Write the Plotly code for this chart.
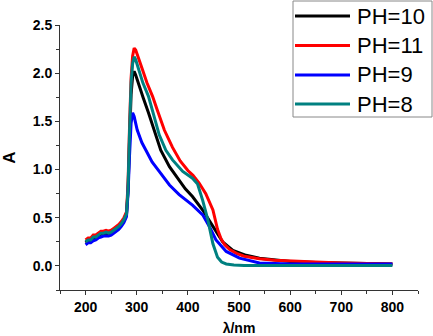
import plotly.graph_objects as go

# ---- data ----
names = ["PH=10", "PH=11", "PH=9", "PH=8"]
colors = ["#000000", "#FF0000", "#0000FF", "#008080"]

low_x = [200, 205, 210, 215, 220, 225, 230, 235, 240, 245, 250, 255, 260, 265, 270, 275, 280]

ph10_x = low_x + [283, 286, 289, 292, 295, 298, 305, 313, 323, 334, 347, 364, 383, 395, 409, 429, 449, 468, 488, 514, 540, 570, 600, 650, 700, 750, 800]
ph10_y = [0.24, 0.26, 0.26, 0.29, 0.29, 0.31, 0.33, 0.33, 0.34, 0.33, 0.34, 0.36, 0.38, 0.40, 0.43, 0.47, 0.53,
          0.78, 1.30, 1.78, 1.97, 2.02, 1.98, 1.86, 1.74, 1.59, 1.40, 1.20, 1.03, 0.89, 0.80, 0.72, 0.58, 0.41, 0.25, 0.16, 0.11, 0.08, 0.06, 0.045, 0.035, 0.03, 0.025, 0.02]

ph11_x = low_x + [283, 286, 289, 292, 295, 298, 305, 311, 320, 331, 340, 354, 370, 385, 400, 410, 422, 435, 449, 458, 465, 472, 482, 495, 510, 540, 570, 600, 650, 700, 750, 800]
ph11_y = [0.27, 0.29, 0.29, 0.32, 0.32, 0.34, 0.36, 0.36, 0.37, 0.36, 0.37, 0.39, 0.41, 0.43, 0.46, 0.50, 0.56,
          0.85, 1.45, 1.95, 2.18, 2.26, 2.24, 2.14, 2.04, 1.90, 1.76, 1.62, 1.41, 1.23, 1.09, 0.99, 0.94, 0.86, 0.75, 0.58, 0.38, 0.28, 0.22, 0.17, 0.13, 0.10, 0.075, 0.06, 0.05, 0.04, 0.03, 0.025, 0.02]

ph9_x = low_x + [283, 286, 289, 292, 295, 301, 310, 318, 330, 344, 364, 383, 409, 429, 442, 455, 475, 501, 540, 570, 600, 700, 800]
ph9_y = [0.22, 0.24, 0.24, 0.26, 0.27, 0.29, 0.30, 0.31, 0.31, 0.31, 0.32, 0.34, 0.36, 0.38, 0.41, 0.45, 0.51,
         0.75, 1.15, 1.48, 1.59, 1.55, 1.41, 1.28, 1.20, 1.08, 0.98, 0.84, 0.74, 0.63, 0.53, 0.41, 0.27, 0.15, 0.08, 0.03, 0.025, 0.02, 0.02, 0.02]

ph8_x = low_x + [283, 286, 289, 292, 295, 298, 305, 312, 323, 333, 344, 357, 370, 390, 409, 419, 429, 439, 449, 458, 466, 475, 490, 510, 600, 700, 800]
ph8_y = [0.25, 0.27, 0.27, 0.30, 0.30, 0.32, 0.34, 0.34, 0.35, 0.34, 0.35, 0.37, 0.39, 0.41, 0.44, 0.48, 0.54,
         0.80, 1.40, 1.90, 2.10, 2.17, 2.14, 2.02, 1.90, 1.76, 1.56, 1.36, 1.20, 1.10, 0.98, 0.91, 0.85, 0.68, 0.48, 0.23, 0.09, 0.04, 0.02, 0.01, 0.005, 0.003, 0.003, 0.003]

series_x = [ph10_x, ph11_x, ph9_x, ph8_x]
series_y = [ph10_y, ph11_y, ph9_y, ph8_y]

x_tickvals = [200, 300, 400, 500, 600, 700, 800]
y_tickvals = [0.0, 0.5, 1.0, 1.5, 2.0, 2.5]
y_ticktext = ["0.0", "0.5", "1.0", "1.5", "2.0", "2.5"]

# ---- figure ----
W, H = 433, 336
ML, MR, MT, MB = 60, 15, 25, 46
PW, PH = W - ML - MR, H - MT - MB
FONT = "Liberation Sans, Arial"

fig = go.Figure()
for nm, c, xs, ys in zip(names, colors, series_x, series_y):
    fig.add_trace(go.Scatter(x=xs, y=ys, mode="lines", name=nm,
                             line=dict(color=c, width=3), showlegend=False))

# manual legend (long line samples like the reference)
def px2paper(px, py):
    return (px - ML) / PW, (H - MB - py) / PH

bx0, by0 = px2paper(293, 117)
bx1, by1 = px2paper(432, 1)
fig.add_shape(type="rect", xref="paper", yref="paper", x0=bx0, y0=by0, x1=bx1, y1=by1,
              line=dict(color="#888888", width=1), fillcolor="white", layer="above")
row_y = [16, 45.5, 75, 104]
for nm, c, ry in zip(names, colors, row_y):
    lx0, ly = px2paper(295, ry)
    lx1, _ = px2paper(350, ry)
    fig.add_shape(type="line", xref="paper", yref="paper", x0=lx0, y0=ly, x1=lx1, y1=ly,
                  line=dict(color=c, width=3), layer="above")
    tx, ty = px2paper(355, ry)
    fig.add_annotation(x=tx, y=ty, xref="paper", yref="paper", text=nm, showarrow=False,
                       xanchor="left", yanchor="middle",
                       font=dict(family=FONT, size=22, color="black"))

axis_common = dict(showline=True, linecolor="#333333", linewidth=1, ticks="outside",
                   ticklen=4, tickwidth=1, tickcolor="#333333", showgrid=False, zeroline=False,
                   tickfont=dict(family=FONT, size=14, color="black", weight="bold"),
                   mirror=False, automargin=False)

fig.update_xaxes(range=[150, 850], tickvals=x_tickvals,
                 minor=dict(dtick=50, tick0=150, ticks="outside", ticklen=3, tickcolor="#333333"),
                 title=dict(text="λ/nm", standoff=14,
                            font=dict(family=FONT, size=14, color="black", weight="bold")),
                 **axis_common)
fig.update_yaxes(range=[-0.25, 2.5], tickvals=y_tickvals, ticktext=y_ticktext,
                 minor=dict(dtick=0.25, tick0=0, ticks="outside", ticklen=3, tickcolor="#333333"),
                 title=dict(text="A", standoff=16,
                            font=dict(family=FONT, size=17, color="black", weight="bold")),
                 **axis_common)

fig.update_layout(width=W, height=H, margin=dict(l=ML, r=MR, t=MT, b=MB),
                  paper_bgcolor="white", plot_bgcolor="white", showlegend=False)

fig.write_html("out.html", config={"displayModeBar": False},
               post_script="document.body.style.margin='0px';document.body.style.overflow='hidden';")
